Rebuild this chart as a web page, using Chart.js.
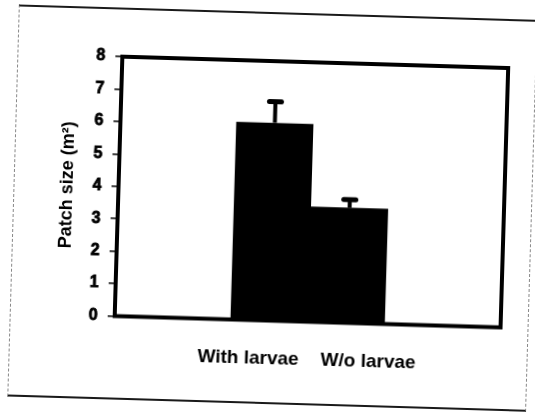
<!DOCTYPE html>
<html>
<head>
<meta charset="utf-8">
<script src="https://cdn.jsdelivr.net/npm/chart.js@4.4.1/dist/chart.umd.min.js"></script>
<style>
  html, body { margin: 0; padding: 0; background: #fff; overflow: hidden; }
  #page {
    position: relative; width: 535px; height: 413px;
    transform: rotate(1.69deg); transform-origin: 50% 50%;
  }
  #frame {
    position: absolute; left: 13px; top: 12px; width: 519px; height: 392px;
    box-sizing: border-box;
    border-top: 2px solid #1a1a1a; border-bottom: 2px solid #1a1a1a;
    border-left: 1px dashed #888; border-right: 1px dashed #888;
  }
  #myChart { position: absolute; left: 0; top: 0; }
</style>
</head>
<body>
<div id="page">
  <div id="frame"></div>
  <canvas id="myChart" width="535" height="413"></canvas>
</div>
<script>
// values
const categories = ['With larvae', 'W/o larvae'];
const patchSize = [6.1, 3.55];
const patchSizeErr = [0.65, 0.25];   // upper error only
const yMin = 0, yMax = 8, yStep = 1;

const fontFamily = "'Liberation Sans', Arial, sans-serif";

// thick black box around the plot
const boxPlugin = {
  id: 'box',
  afterDatasetsDraw(chart) {
    const a = chart.chartArea, ctx = chart.ctx;
    ctx.save();
    ctx.strokeStyle = '#000';
    ctx.lineWidth = 4;
    ctx.strokeRect(a.left, a.top, a.right - a.left, a.bottom - a.top);
    ctx.restore();
  }
};

// upper error bars with a rounded cap
const errorBars = {
  id: 'errorBars',
  afterDatasetsDraw(chart) {
    const ctx = chart.ctx, y = chart.scales.y;
    ctx.save();
    ctx.strokeStyle = '#000';
    chart.data.datasets.forEach((ds, i) => {
      const bar = chart.getDatasetMeta(i).data[0];
      const top = y.getPixelForValue(ds.data[0] + ds.err);
      ctx.lineCap = 'butt';
      ctx.lineWidth = 4;
      ctx.beginPath();
      ctx.moveTo(bar.x, bar.y);
      ctx.lineTo(bar.x, top);
      ctx.stroke();
      ctx.lineCap = 'round';
      ctx.lineWidth = 5;
      ctx.beginPath();
      ctx.moveTo(bar.x - 6, top);
      ctx.lineTo(bar.x + 6, top);
      ctx.stroke();
    });
    ctx.restore();
  }
};

let ctx = document.getElementById('myChart').getContext('2d');
var myChart = new Chart(ctx, {
  type: 'bar',
  data: {
    labels: [''],
    datasets: categories.map((c, i) => ({
      label: c,
      data: [patchSize[i]],
      err: patchSizeErr[i],
      backgroundColor: '#000',
      borderWidth: 0,
      categoryPercentage: 0.4,
      barPercentage: 1.0
    }))
  },
  options: {
    responsive: false,
    animation: false,
    layout: { padding: { left: 0, right: 31, top: 61, bottom: 35 } },
    plugins: {
      tooltip: { enabled: false },
      legend: {
        position: 'bottom',
        fullSize: false,
        labels: {
          // no colour box: cancel the half-font gap so the text sits where the box would be
          boxWidth: -9.5,
          boxHeight: 0,
          padding: 22,
          color: '#000',
          font: { family: fontFamily, size: 19, weight: 'bold' }
        }
      }
    },
    scales: {
      x: {
        grid: { display: false },
        border: { display: false },
        ticks: { display: false },
        afterFit: s => { s.height = 6.5; }
      },
      y: {
        min: yMin,
        max: yMax,
        border: { display: false },
        grid: { drawOnChartArea: false, drawTicks: true, tickLength: 7, color: '#000', lineWidth: 1.5 },
        ticks: {
          stepSize: yStep,
          padding: 10,
          color: '#000',
          textStrokeColor: '#000',
          textStrokeWidth: 0.8,
          font: { family: fontFamily, size: 16, weight: 'bold' }
        },
        title: {
          display: true,
          text: 'Patch size (m²)',
          color: '#000',
          padding: { top: 56.5, bottom: 0 },
          font: { family: fontFamily, size: 18, weight: 'bold' }
        },
        afterFit: s => { s.width = 118; }
      }
    }
  },
  plugins: [boxPlugin, errorBars]
});
</script>
</body>
</html>
